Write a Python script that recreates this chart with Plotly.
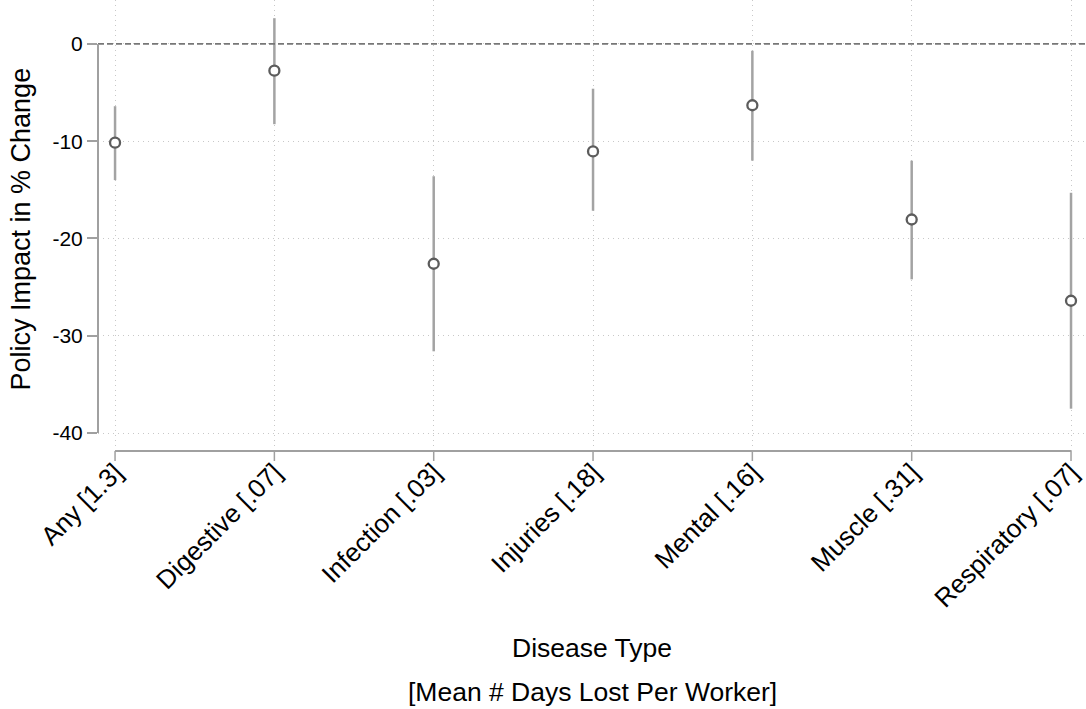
import plotly.graph_objects as go

categories = ["Any [1.3]", "Digestive [.07]", "Infection [.03]", "Injuries [.18]",
              "Mental [.16]", "Muscle [.31]", "Respiratory [.07]"]
estimate = [-10.15, -2.75, -22.6, -11.05, -6.3, -18.05, -26.4]
ci_upper = [-6.4, 2.65, -13.6, -4.6, -0.7, -12.0, -15.3]
ci_lower = [-14.0, -8.25, -31.6, -17.15, -12.0, -24.2, -37.5]
y_ticks = [0, -10, -20, -30, -40]

err_plus = [u - e for u, e in zip(ci_upper, estimate)]
err_minus = [e - l for e, l in zip(estimate, ci_lower)]

FONT = "Liberation Sans, Arial, sans-serif"
AXIS_GRAY = "#a0a0a0"

fig = go.Figure()
fig.add_trace(go.Scatter(
    x=categories, y=estimate, mode="markers",
    marker=dict(symbol="circle", size=10, color="white",
                line=dict(color="#5c5c5c", width=2.3)),
    error_y=dict(type="data", symmetric=False, array=err_plus, arrayminus=err_minus,
                 color="#a3a3a3", thickness=2.5, width=0),
    showlegend=False,
))

shapes = [
    dict(type="line", xref="paper", x0=0, x1=1, yref="y", y0=0, y1=0,
         line=dict(color="#777777", width=1.8, dash="6px,3px"), layer="above"),
    dict(type="line", xref="paper", x0=0, x1=0, yref="y", y0=y_ticks[0], y1=y_ticks[-1],
         line=dict(color=AXIS_GRAY, width=2)),
    dict(type="line", xref="x", x0=categories[0], x1=categories[-1], yref="paper", y0=0, y1=0,
         line=dict(color=AXIS_GRAY, width=2)),
]
# x-axis tick marks (pointing down, 10px), drawn so labels can sit closer to the axis
for c in categories:
    shapes.append(dict(type="line", xref="x", x0=c, x1=c, yref="paper",
                       ysizemode="pixel", yanchor=0, y0=0, y1=-10,
                       line=dict(color=AXIS_GRAY, width=1.5)))

annotations = [
    dict(text="Disease Type", xref="paper", yref="paper", x=0.5, y=0, yshift=-197,
         xanchor="center", yanchor="middle", showarrow=False,
         font=dict(family=FONT, size=26.5, color="black")),
    dict(text="[Mean # Days Lost Per Worker]", xref="paper", yref="paper", x=0.5, y=0,
         yshift=-241, xanchor="center", yanchor="middle", showarrow=False,
         font=dict(family=FONT, size=26.5, color="black")),
    dict(text="Policy Impact in % Change", xref="paper", yref="paper", x=0, y=0.5,
         xshift=-78, yshift=-4, textangle=-90, xanchor="center", yanchor="middle",
         showarrow=False, font=dict(family=FONT, size=27, color="black")),
]

fig.update_layout(
    width=1086, height=709,
    margin=dict(l=98, r=0, t=0, b=258),
    paper_bgcolor="white", plot_bgcolor="white",
    font=dict(family=FONT, color="black"),
    shapes=shapes, annotations=annotations,
    xaxis=dict(
        type="category", range=[-0.107, 6.094],
        showline=False, zeroline=False,
        showgrid=True, gridcolor="#c8c8c8", gridwidth=1, griddash="1px,4px",
        ticks="", ticklen=0,
        tickangle=-45, tickfont=dict(family=FONT, size=26, color="black"),
    ),
    yaxis=dict(
        range=[-41.85, 4.52], tickvals=y_ticks, ticktext=[str(v) for v in y_ticks],
        showline=False, zeroline=False,
        showgrid=True, gridcolor="#c8c8c8", gridwidth=1, griddash="1px,4px",
        ticks="outside", ticklen=10, tickcolor=AXIS_GRAY, tickwidth=1.5,
        tickfont=dict(family=FONT, size=21, color="black"),
    ),
)

fig.write_html("out.html", config={"displayModeBar": False},
               post_script="document.body.style.margin='0';document.body.style.overflow='hidden';")
